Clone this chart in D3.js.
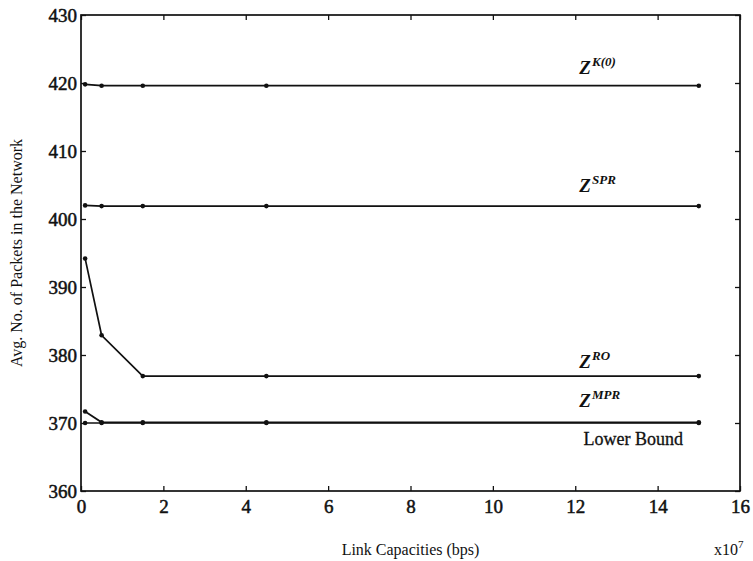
<!DOCTYPE html>
<html>
<head>
<meta charset="utf-8">
<script src="https://cdn.jsdelivr.net/npm/d3@7"></script>
<style>
  body { margin: 0; background: #fff; }
  svg text { font-family: "Liberation Serif", "Times New Roman", serif; fill: #111; }
</style>
</head>
<body>
<script>
var width = 753, height = 561;
var margin = {top: 15, right: 13, bottom: 70, left: 81};

// link capacities, units of 1e7 bps
var capacities = [0.1, 0.5, 1.5, 4.5, 15];
var zK0 = [419.8, 419.6, 419.6, 419.6, 419.6];
var zSPR = [402.0, 401.9, 401.9, 401.9, 401.9];
var zRO = [394.2, 382.9, 376.9, 376.9, 376.9];
var zMPR = [371.7, 370.1, 370.1, 370.1, 370.1];
var lowerBound = [370.0, 370.0, 370.0, 370.0, 370.0];

var xTicks = [0, 2, 4, 6, 8, 10, 12, 14, 16];
var yTicks = [360, 370, 380, 390, 400, 410, 420, 430];

var svg = d3.select("body").append("svg")
    .attr("width", width)
    .attr("height", height);

var x = d3.scaleLinear().domain([0, 16]).range([margin.left, width - margin.right]);
var y = d3.scaleLinear().domain([360, 430]).range([height - margin.bottom, margin.top]);

var x0 = x(0), x1 = x(16), y0 = y(360), y1 = y(430);

// frame
svg.append("rect")
    .attr("x", x0).attr("y", y1)
    .attr("width", x1 - x0).attr("height", y0 - y1)
    .attr("fill", "none").attr("stroke", "#111").attr("stroke-width", 1.7);

// ticks pointing inward on all four sides
var tl = 5;
var bottom = svg.append("g").attr("transform", "translate(0," + y0 + ")")
    .call(d3.axisBottom(x).tickValues(xTicks).tickSize(-tl).tickPadding(8).tickFormat(d3.format("d")));
svg.append("g").attr("transform", "translate(0," + y1 + ")")
    .call(d3.axisTop(x).tickValues(xTicks).tickSize(-tl).tickFormat(""));
var left = svg.append("g").attr("transform", "translate(" + x0 + ",0)")
    .call(d3.axisLeft(y).tickValues(yTicks).tickSize(-tl).tickPadding(4).tickFormat(d3.format("d")));
svg.append("g").attr("transform", "translate(" + x1 + ",0)")
    .call(d3.axisRight(y).tickValues(yTicks).tickSize(-tl).tickFormat(""));

svg.selectAll(".domain").remove();
svg.selectAll("g").attr("font-family", null).attr("font-size", null);
svg.selectAll(".tick line").attr("stroke", "#111").attr("stroke-width", 1.3);
svg.selectAll(".tick text")
    .style("font-family", "Liberation Serif, serif")
    .style("font-size", "19px")
    .style("fill", "#111")
    .style("stroke", "#111")
    .style("stroke-width", "0.5px");
bottom.selectAll(".tick text").attr("dy", "0.75em");

// series
var series = [zK0, zSPR, zRO, zMPR, lowerBound];
var line = d3.line().x(function (d, i) { return x(capacities[i]); }).y(function (d) { return y(d); });

series.forEach(function (s) {
    svg.append("path")
        .datum(s)
        .attr("d", line)
        .attr("fill", "none")
        .attr("stroke", "#111")
        .attr("stroke-width", 1.7);
    svg.selectAll(null)
        .data(s)
        .enter()
        .append("circle")
        .attr("cx", function (d, i) { return x(capacities[i]); })
        .attr("cy", function (d) { return y(d); })
        .attr("r", 2.3)
        .attr("fill", "#111");
});

// curve labels
var labels = [
    {base: "Z", sup: "K(0)", v: 421.3},
    {base: "Z", sup: "SPR", v: 404.0},
    {base: "Z", sup: "RO", v: 378.1},
    {base: "Z", sup: "MPR", v: 372.3}
];
labels.forEach(function (l) {
    var t = svg.append("text")
        .attr("x", x(12.1))
        .attr("y", y(l.v))
        .style("font-size", "19px")
        .style("font-style", "italic")
        .style("font-weight", "bold");
    t.append("tspan").text(l.base);
    t.append("tspan")
        .attr("dy", -8)
        .attr("dx", 1)
        .style("font-size", "13px")
        .text(l.sup);
});
svg.append("text")
    .attr("x", x(12.2))
    .attr("y", y(366.7))
    .style("font-size", "18px")
    .style("stroke", "#111")
    .style("stroke-width", "0.3px")
    .text("Lower Bound");

// axis titles
svg.append("text")
    .attr("x", (x0 + x1) / 2)
    .attr("y", 555)
    .attr("text-anchor", "middle")
    .style("font-size", "16px")
    .text("Link Capacities (bps)");

var mult = svg.append("text")
    .attr("x", 714)
    .attr("y", 555)
    .style("font-size", "16px");
mult.append("tspan").text("x10");
mult.append("tspan").attr("dy", -7).style("font-size", "11px").text("7");

svg.append("text")
    .attr("transform", "translate(22," + (y0 + y1) / 2 + ") rotate(-90)")
    .attr("text-anchor", "middle")
    .style("font-size", "16px")
    .text("Avg. No. of Packets in the Network");
</script>
</body>
</html>
